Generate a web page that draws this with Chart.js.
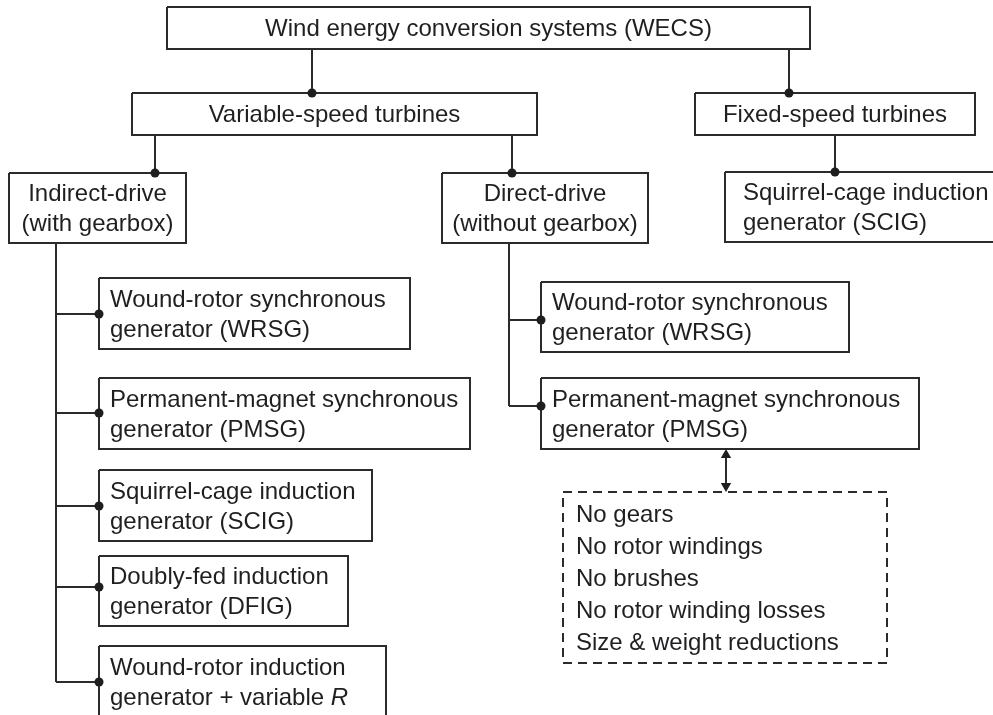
<!DOCTYPE html>
<html><head><meta charset="utf-8">
<script src="https://cdn.jsdelivr.net/npm/chart.js@4/dist/chart.umd.min.js"></script>
<style>html,body{margin:0;padding:0;background:#fff;overflow:hidden}#wrap{width:993px;height:715px}</style>
</head><body><div id="wrap"><canvas id="c" width="993" height="715"></canvas></div>
<script>
// ---- diagram nodes (text) ----
const nodeText = [
  ['Wind energy conversion systems (WECS)'],
  ['Variable-speed turbines'],
  ['Fixed-speed turbines'],
  ['Indirect-drive', '(with gearbox)'],
  ['Direct-drive', '(without gearbox)'],
  ['Squirrel-cage induction', 'generator (SCIG)'],
  ['Wound-rotor synchronous', 'generator (WRSG)'],
  ['Permanent-magnet synchronous', 'generator (PMSG)'],
  ['Squirrel-cage induction', 'generator (SCIG)'],
  ['Doubly-fed induction', 'generator (DFIG)'],
  ['Wound-rotor induction', 'generator + variable *R*'],
  ['Wound-rotor synchronous', 'generator (WRSG)'],
  ['Permanent-magnet synchronous', 'generator (PMSG)'],
  ['No gears', 'No rotor windings', 'No brushes', 'No rotor winding losses', 'Size & weight reductions']
];
const nodeAlign  = ['center','center','center','center','center','left','left','left','left','left','left','left','left','left'];
const nodeDashed = [false,false,false,false,false,false,false,false,false,false,false,false,false,true];
// node box extents in diagram units
const nodeLeft   = [167, 132, 695,   9, 442,  725,  99,  99,  99,  99,  99, 541, 541, 563];
const nodeRight  = [810, 537, 975, 186, 648, 1010, 410, 470, 372, 348, 386, 849, 919, 887];
const nodeTop    = [  7,  93,  93, 173, 173,  172, 278, 378, 470, 556, 646, 282, 378, 492];
const nodeBottom = [ 49, 135, 135, 243, 243,  242, 349, 449, 541, 626, 725, 352, 449, 663];

// ---- vertical drop links: parent bottom -> child top ----
const dropParent = [0, 0, 1, 1, 2];
const dropChild  = [1, 2, 3, 4, 5];
const dropX      = [312, 789, 155, 512, 835];

// ---- side (trunk) links: trunk from parent, branch into child's left edge ----
const sideParent = [3, 3, 3, 3, 3, 4, 4];
const sideChild  = [6, 7, 8, 9, 10, 11, 12];
const sideTrunkX = [56, 56, 56, 56, 56, 509, 509];
const sideBranchY= [314, 413, 506, 587, 682, 320, 406];

// ---- double-headed arrow ----
const arrowFrom = 12, arrowTo = 13, arrowX = 726;

const LINE = '#2b2b2b';
const datasets = [];
function seg(points, dash) {
  datasets.push({ type: 'scatter', showLine: true, data: points, borderColor: LINE, borderWidth: 2,
    borderDash: dash || [], pointRadius: 0, pointHoverRadius: 0, tension: 0, fill: false, order: 2 });
}
// boxes
for (let i = 0; i < nodeText.length; i++) {
  seg([{x: nodeLeft[i], y: nodeTop[i]}, {x: nodeRight[i], y: nodeTop[i]}, {x: nodeRight[i], y: nodeBottom[i]},
       {x: nodeLeft[i], y: nodeBottom[i]}, {x: nodeLeft[i], y: nodeTop[i]}], nodeDashed[i] ? [9, 6] : null);
}
const dots = [];
for (let k = 0; k < dropX.length; k++) {
  seg([{x: dropX[k], y: nodeBottom[dropParent[k]]}, {x: dropX[k], y: nodeTop[dropChild[k]]}]);
  dots.push({x: dropX[k], y: nodeTop[dropChild[k]]});
}
const trunkEnd = {};
for (let k = 0; k < sideParent.length; k++) {
  const p = sideParent[k];
  trunkEnd[p] = Math.max(trunkEnd[p] || 0, sideBranchY[k]);
  seg([{x: sideTrunkX[k], y: sideBranchY[k]}, {x: nodeLeft[sideChild[k]], y: sideBranchY[k]}]);
  dots.push({x: nodeLeft[sideChild[k]], y: sideBranchY[k]});
}
for (let k = 0; k < sideParent.length; k++) {
  const p = sideParent[k];
  if (trunkEnd[p] === null) continue;
  seg([{x: sideTrunkX[k], y: nodeBottom[p]}, {x: sideTrunkX[k], y: trunkEnd[p]}]);
  trunkEnd[p] = null;
}
datasets.push({ type: 'scatter', data: dots, pointRadius: 4.5, pointBackgroundColor: '#1e1e1e',
  pointBorderWidth: 0, pointHoverRadius: 4.5, order: 1 });
// arrow
const aTop = nodeBottom[arrowFrom], aBot = nodeTop[arrowTo], ah = 6;
seg([{x: arrowX, y: aTop + 4}, {x: arrowX, y: aBot - 4}]);
datasets.push({ type: 'scatter', data: [{x: arrowX, y: aTop + ah}, {x: arrowX, y: aBot - ah}],
  pointStyle: 'triangle', pointRadius: ah, pointHoverRadius: ah,
  rotation: (c) => c.dataIndex === 0 ? 0 : 180,
  pointRotation: (c) => c.dataIndex === 0 ? 0 : 180,
  pointBackgroundColor: '#1e1e1e', pointBorderWidth: 0, order: 1 });

const FONT = '"Liberation Sans", Arial, Helvetica, sans-serif';
const textPlugin = {
  id: 'boxText',
  afterDatasetsDraw(chart) {
    const ctx = chart.ctx, xs = chart.scales.x, ys = chart.scales.y;
    ctx.save();
    ctx.fillStyle = '#1f1f22';
    ctx.textBaseline = 'alphabetic';
    for (let i = 0; i < nodeText.length; i++) {
      const lines = nodeText[i];
      const dashed = nodeDashed[i];
      const lh = dashed ? 32 : 30;
      const bottom = Math.min(nodeBottom[i], 718);
      const cy = (ys.getPixelForValue(nodeTop[i]) + ys.getPixelForValue(bottom)) / 2;
      const first = cy - (lines.length - 1) * lh / 2 + 8;
      const left = xs.getPixelForValue(nodeLeft[i]) + (dashed ? 13 : (i === 5 ? 18 : 11));
      const cx = (xs.getPixelForValue(nodeLeft[i]) + xs.getPixelForValue(nodeRight[i])) / 2;
      lines.forEach((ln, j) => {
        const parts = ln.split('*');
        const y = first + j * lh;
        let total = 0;
        parts.forEach((p, q) => { ctx.font = (q % 2 ? 'italic ' : '') + '24px ' + FONT; total += ctx.measureText(p).width; });
        let x = nodeAlign[i] === 'center' ? cx - total / 2 : left;
        ctx.textAlign = 'left';
        parts.forEach((p, q) => {
          ctx.font = (q % 2 ? 'italic ' : '') + '24px ' + FONT;
          ctx.fillText(p, x, y);
          x += ctx.measureText(p).width;
        });
      });
    }
    ctx.restore();
  }
};

new Chart(document.getElementById('c'), {
  type: 'scatter',
  data: { datasets },
  options: {
    responsive: false, animation: false, events: [],
    layout: { padding: 0, autoPadding: false },
    plugins: { legend: { display: false }, tooltip: { enabled: false } },
    scales: {
      x: { type: 'linear', min: 0, max: 993, display: false },
      y: { type: 'linear', min: 0, max: 715, reverse: true, display: false }
    }
  },
  plugins: [textPlugin]
});
</script>
</body></html>
